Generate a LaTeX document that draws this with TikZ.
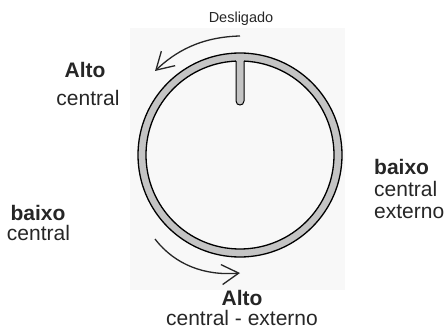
\documentclass[tikz,border=0pt]{standalone}
\usepackage{fontspec}
\setmainfont{Liberation Sans}
\usetikzlibrary{arrows.meta}
\definecolor{txtgray}{HTML}{262626}
\definecolor{ringgray}{HTML}{C4C4C4}
\definecolor{paper}{HTML}{F8F8F8}

\begin{document}
\begin{tikzpicture}[x=1pt, y=-1pt,
    lbl/.style={font=\fontsize{21}{25}\selectfont, text=txtgray, inner sep=0pt, anchor=base},
    lblbf/.style={lbl, font=\fontsize{21}{25}\selectfont\bfseries},
    small/.style={lbl, font=\fontsize{14.5}{17}\selectfont},
    turn/.style={-{Straight Barb[length=17pt, width=20pt]}, line width=1.3pt, black!85}
]
    \useasboundingbox (0,0) rectangle (447,334);

    % Background panel behind the knob
    \fill[paper] (130,28) rectangle (345,290);

    % --- Knob ---
    \coordinate (knob) at (240,155);
    \fill[ringgray, even odd rule] (knob) circle[radius=102] (knob) circle[radius=94];
    \draw[line width=1.3pt] (knob) circle[radius=102];
    \draw[line width=1.3pt] (knob) circle[radius=94];

    % Pointer
    \fill[ringgray] (236,57) -- (236,101) .. controls (236,106.3) and (244,106.3) .. (244,101) -- (244,57) -- cycle;
    \draw[line width=1pt] (236,61.2) -- (236,101) .. controls (236,106.3) and (244,106.3) .. (244,101) -- (244,61.2);

    % --- Turning arrows ---
    \coordinate (topStart) at (240,36);
    \coordinate (topEnd) at (155,71);
    \draw[turn] (topStart) .. controls (200,37) and (175,52) .. (topEnd);

    \coordinate (botStart) at (155,239);
    \coordinate (botEnd) at (240,273);
    \draw[turn] (botStart) .. controls (175,265) and (205,276) .. (botEnd);

    % --- Labels ---
    \node[small] (off) at (241,23) {Desligado};

    \node[lblbf] (hiC) at (85,78) {Alto};
    \node[lbl] (hiCsub) at (88,106) {central};

    \node[lblbf] (loC) at (38,220) {baixo};
    \node[lbl] (loCsub) at (38.5,240) {central};

    \node[lblbf, anchor=base west] (loCE) at (374,175) {baixo};
    \node[lbl, anchor=base west] (loCEsub) at (374,196) {central};
    \node[lbl, anchor=base west] (loCEsub2) at (374,218) {externo};

    \node[lblbf] (hiCE) at (242,305) {Alto};
    \node[lbl] (hiCEsub) at (242,325) {central - externo};

\end{tikzpicture}
\end{document}
